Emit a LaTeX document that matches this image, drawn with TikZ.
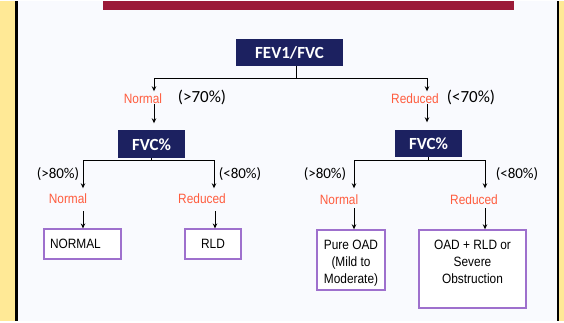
\documentclass[tikz,border=0pt]{standalone}
\usepackage{fontspec}
\setmainfont{Liberation Sans}
\newfontfamily\calfont{Carlito}
\newfontfamily\narrowfont[FakeStretch=0.88]{Liberation Sans}
\usetikzlibrary{arrows.meta}
\definecolor{bgyellow}{RGB}{255,233,150}
\definecolor{innerbg}{RGB}{249,250,254}
\definecolor{navy}{RGB}{28,33,96}
\definecolor{labred}{RGB}{255,92,62}
\definecolor{boxpurple}{RGB}{158,112,205}
\definecolor{barred}{RGB}{155,26,56}
\tikzset{
  dark/.style={fill=navy, text=white, font=\calfont\bfseries\fontsize{17}{17}\selectfont, inner sep=0pt},
  res/.style={draw=boxpurple, line width=1.7pt, fill=white, font=\narrowfont\fontsize{13.5}{17}\selectfont, align=center, inner sep=0pt},
  lab/.style={text=labred, font=\narrowfont\fontsize{13.5}{14}\selectfont, inner sep=0pt},
  pctbig/.style={font=\calfont\fontsize{17}{17}\selectfont, inner sep=0pt},
  pct/.style={font=\calfont\fontsize{15}{15}\selectfont, inner sep=0pt},
  conn/.style={draw=black, line width=1pt},
  arr/.style={conn, -{Stealth[length=5pt,width=4.5pt]}}
}
\begin{document}
\begin{tikzpicture}[x=1pt,y=-1pt]
% background and frame
\fill[bgyellow] (0,0) rectangle (564,320);
\fill[innerbg] (17,0) rectangle (557.5,320);
\draw[black, line width=2.6pt] (16.5,0) -- (16.5,320);
\draw[black, line width=2.6pt] (558,0) -- (558,320);
\fill[barred] (103,0) rectangle (514,8.5);
\useasboundingbox (0,0) rectangle (564,320);

% top
\node[dark, minimum width=107pt, minimum height=27pt] (fev) at (289.5,51.5) {FEV1/FVC};
\coordinate (j0) at (296,77);
\coordinate (hL) at (154,77);
\coordinate (hR) at (427,77);
\draw[conn] (fev.south -| j0) -- (j0);
\draw[conn] (hL) -- (hR);
\coordinate (tL) at (154,90);
\coordinate (tR) at (427,90);
\draw[arr] (hL) -- (tL);
\draw[arr] (hR) -- (tR);

\node[lab] (n1) at (143,97) {Normal};
\node[pctbig] (p1) at (202,96) {(>70\%)};
\node[lab] (r1) at (415,97) {Reduced};
\node[pctbig] (p2) at (471,96) {(<70\%)};

% second level boxes
\node[dark, minimum width=67pt, minimum height=28pt] (fvcL) at (151.5,143) {FVC\%};
\node[dark, minimum width=67pt, minimum height=27pt] (fvcR) at (428.5,142.5) {FVC\%};

\coordinate (sL) at (154,103);
\coordinate (sR) at (427,103);
\coordinate (eL) at (154,122);
\coordinate (eR) at (427,121);
\draw[arr] (sL) -- (eL);
\draw[arr] (sR) -- (eR);

% left split
\coordinate (aL1) at (83,159);
\coordinate (aL2) at (214,159);
\draw[conn] (fvcL.south) -- (fvcL.south |- aL1);
\draw[conn] (aL1) -- (aL2);
\coordinate (bL1) at (83,187);
\coordinate (bL2) at (214,187);
\draw[arr] (aL1) -- (bL1);
\draw[arr] (aL2) -- (bL2);
\node[pct] (p3) at (58,173) {(>80\%)};
\node[pct] (p4) at (240,173) {(<80\%)};
\node[lab] (n2) at (68,197) {Normal};
\node[lab] (r2) at (202,197) {Reduced};

% right split
\coordinate (aR1) at (354,159);
\coordinate (aR2) at (485,159);
\draw[conn] (fvcR.south) -- (fvcR.south |- aR1);
\draw[conn] (aR1) -- (aR2);
\coordinate (bR1) at (354,187);
\coordinate (bR2) at (485,187);
\draw[arr] (aR1) -- (bR1);
\draw[arr] (aR2) -- (bR2);
\node[pct] (p5) at (325,173) {(>80\%)};
\node[pct] (p6) at (517,173) {(<80\%)};
\node[lab] (n3) at (339,198) {Normal};
\node[lab] (r3) at (474,198) {Reduced};

% result boxes
\node[res, minimum width=77pt, minimum height=30pt, text width=65pt, align=left] (normal) at (82.5,243) {NORMAL};
\node[res, minimum width=56pt, minimum height=30pt] (rld) at (213,243) {RLD};
\node[res, minimum width=68pt, anchor=north, text height=53.5pt, text depth=6.5pt] (pure) at (351,228) {Pure OAD\\(Mild to\\Moderate)};
\node[res, minimum width=107pt, anchor=north, text height=53.5pt, text depth=24.5pt] (oad) at (472.5,228) {OAD + RLD or\\Severe\\Obstruction};

% arrows into result boxes
\coordinate (cL1) at (83,210);
\coordinate (cL2) at (215,210);
\coordinate (cR1) at (354,207);
\coordinate (cR2) at (485,207);
\draw[arr] (cL1) -- (cL1 |- normal.north);
\draw[arr] (cL2) -- (cL2 |- rld.north);
\draw[arr] (cR1) -- (cR1 |- pure.north);
\draw[arr] (cR2) -- (cR2 |- oad.north);
\end{tikzpicture}
\end{document}
